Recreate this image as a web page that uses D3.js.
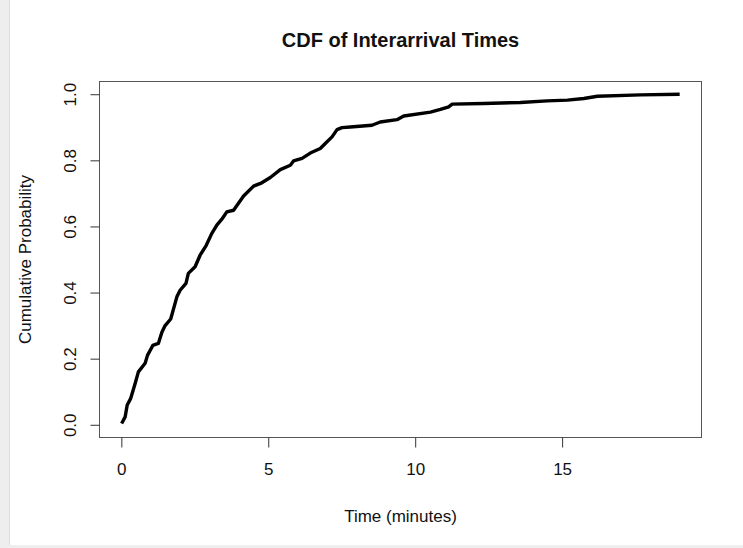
<!DOCTYPE html>
<html lang="en">
<head>
<meta charset="UTF-8">
<script src="https://d3js.org/d3.v7.min.js"></script>
<title>CDF of Interarrival Times</title>
<style>
  body { margin: 0; background: #fff; }
  text { font-family: "Liberation Sans", Arial, sans-serif; fill: #111; }
</style>
</head>
<body>
<script>
// ECDF: interarrival time (minutes) and cumulative probability
const timeValues = [0.01, 0.13, 0.2, 0.32, 0.47, 0.58, 0.81, 0.89, 1.07, 1.26, 1.38, 1.49, 1.68,
  1.89, 2.0, 2.2, 2.28, 2.51, 2.68, 2.89, 3.08, 3.25, 3.42, 3.59, 3.82, 4.16, 4.5, 4.78, 5.07,
  5.41, 5.75, 5.86, 6.15, 6.43, 6.77, 6.94, 7.17, 7.34, 7.51, 7.79, 8.53, 8.81, 9.38, 9.61,
  10.52, 10.86, 11.14, 11.26, 12.33, 13.58, 14.49, 15.18, 15.74, 16.2, 17.67, 19.0];
const cdfValues = [0.004, 0.024, 0.06, 0.08, 0.125, 0.16, 0.186, 0.21, 0.24, 0.246, 0.28, 0.30, 0.32,
  0.387, 0.407, 0.428, 0.458, 0.478, 0.513, 0.543, 0.579, 0.604, 0.622, 0.644, 0.649, 0.692, 0.722, 0.732, 0.748,
  0.772, 0.785, 0.798, 0.806, 0.822, 0.836, 0.851, 0.871, 0.893, 0.899, 0.901, 0.906, 0.916, 0.923, 0.934,
  0.946, 0.954, 0.962, 0.970, 0.972, 0.975, 0.980, 0.982, 0.987, 0.994, 0.998, 1.0];
const xTicks = [0, 5, 10, 15];
const yTicks = [0, 0.2, 0.4, 0.6, 0.8, 1.0];

const W = 743, H = 548;
const box = { left: 99, right: 702, top: 81, bottom: 438 };

const data = timeValues.map((t, i) => ({ t: t, p: cdfValues[i] }));

const xMax = d3.max(timeValues);
const xScale = d3.scaleLinear()
    .domain([-0.04 * xMax, 1.04 * xMax])
    .range([box.left, box.right]);
const yScale = d3.scaleLinear()
    .domain([-0.04, 1.04])
    .range([box.bottom, box.top]);

const svg = d3.select("body").append("svg")
    .attr("width", W)
    .attr("height", H);

// viewer frame strips
svg.append("rect").attr("x", 0).attr("y", 0).attr("width", 9).attr("height", H).attr("fill", "#eeeeee");
svg.append("line").attr("x1", 9.5).attr("x2", 9.5).attr("y1", 0).attr("y2", H).attr("stroke", "#dcdcdc");
svg.append("rect").attr("x", 0).attr("y", 545).attr("width", W).attr("height", 3).attr("fill", "#eeeeee");

// curve
const line = d3.line()
    .x(d => xScale(d.t))
    .y(d => yScale(d.p));

svg.append("path")
    .datum(data)
    .attr("fill", "none")
    .attr("stroke", "#000")
    .attr("stroke-width", 3.4)
    .attr("stroke-linejoin", "round")
    .attr("d", line);

// plot box
svg.append("rect")
    .attr("x", box.left + 0.5)
    .attr("y", box.top + 0.5)
    .attr("width", box.right - box.left - 1)
    .attr("height", box.bottom - box.top - 1)
    .attr("fill", "none")
    .attr("stroke", "#555");

// x axis
const xAxis = svg.append("g")
    .attr("transform", "translate(0," + (box.bottom - 0.5) + ")")
    .call(d3.axisBottom(xScale).tickValues(xTicks).tickSize(10).tickPadding(15).tickFormat(d3.format("d")));
xAxis.select(".domain").remove();
xAxis.selectAll("line").attr("stroke", "#333");
xAxis.selectAll("text").style("font-size", "17px").attr("fill", "#111");

// y axis
const yAxis = svg.append("g")
    .attr("transform", "translate(" + (box.left + 0.5) + ",0)")
    .call(d3.axisLeft(yScale).tickValues(yTicks).tickSize(9).tickFormat(d3.format(".1f")));
yAxis.select(".domain").remove();
yAxis.selectAll("line").attr("stroke", "#333");
yAxis.selectAll("text")
    .attr("x", null).attr("dy", null)
    .attr("text-anchor", "middle")
    .attr("transform", "translate(-29,0) rotate(-90)")
    .attr("dy", "0.35em")
    .style("font-size", "17px")
    .attr("fill", "#111");

// title
svg.append("text")
    .attr("x", (box.left + box.right) / 2)
    .attr("y", 47)
    .attr("text-anchor", "middle")
    .style("font-size", "20px")
    .style("font-weight", "bold")
    .text("CDF of Interarrival Times");

// axis titles
svg.append("text")
    .attr("x", (box.left + box.right) / 2)
    .attr("y", 522)
    .attr("text-anchor", "middle")
    .style("font-size", "17px")
    .text("Time (minutes)");

svg.append("text")
    .attr("transform", "translate(31," + ((box.top + box.bottom) / 2) + ") rotate(-90)")
    .attr("text-anchor", "middle")
    .style("font-size", "17px")
    .text("Cumulative Probability");
</script>
</body>
</html>
